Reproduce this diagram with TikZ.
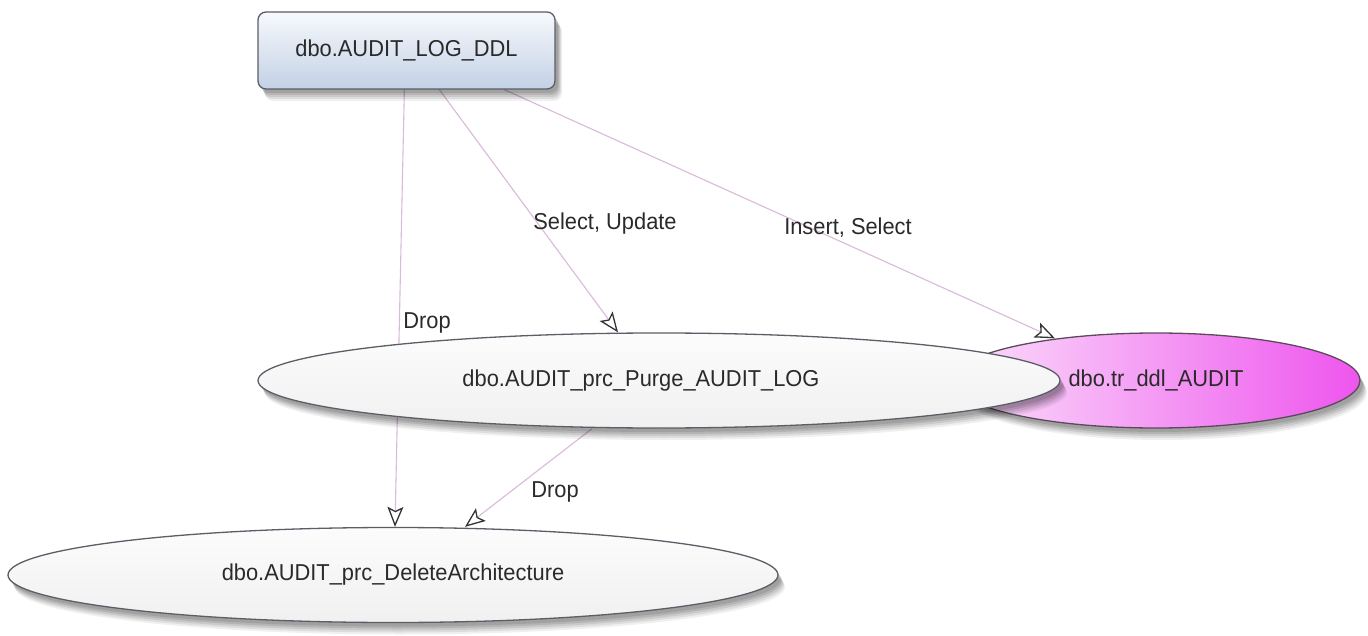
\documentclass[tikz,border=0pt]{standalone}
\usepackage{fontspec}
\setmainfont{Liberation Sans}[FakeStretch=0.95]
\usetikzlibrary{arrows.meta,shapes.geometric,shadows,calc}
\pgfdeclarelayer{bg}
\pgfsetlayers{bg,main}
\definecolor{edgec}{HTML}{DABADA}
\definecolor{txtc}{HTML}{2A2A2A}
\definecolor{borderc}{HTML}{5A5E66}
\definecolor{recttop}{HTML}{F7F9FC}
\definecolor{rectbot}{HTML}{C3D1E5}
\definecolor{elltop}{HTML}{FCFCFC}
\definecolor{ellbot}{HTML}{F0F0F0}
\definecolor{pinkl}{HTML}{FBE0FB}
\definecolor{pinkr}{HTML}{EE55EE}
\definecolor{trborder}{HTML}{5C4A5C}
\definecolor{tipc}{HTML}{333333}
\begin{document}
\begin{tikzpicture}[x=1pt,y=-1pt,
  font=\fontsize{23}{27}\selectfont, text=txtc,
  nodeshadow/.style={
    general shadow={shadow xshift=7pt, shadow yshift=-12pt, fill=black, opacity=0.06},
    general shadow={shadow xshift=6pt, shadow yshift=-10pt, fill=black, opacity=0.08},
    general shadow={shadow xshift=5pt, shadow yshift=-8pt, fill=black, opacity=0.09},
    general shadow={shadow xshift=4pt, shadow yshift=-6pt, fill=black, opacity=0.10},
    general shadow={shadow xshift=3pt, shadow yshift=-4pt, fill=black, opacity=0.10}},
  tablebox/.style={draw=borderc, line width=1.3pt, rounded corners=8pt,
    minimum width=297pt, minimum height=77pt, inner sep=0pt,
    top color=recttop, bottom color=rectbot, nodeshadow},
  procell/.style={ellipse, draw=borderc, line width=1.3pt, inner sep=0pt,
    minimum height=95pt, top color=elltop, bottom color=ellbot, nodeshadow},
  trigell/.style={ellipse, draw=trborder, line width=1.3pt, inner sep=0pt,
    minimum height=95pt, left color=pinkl, right color=pinkr, nodeshadow},
  dep/.style={draw=edgec, line width=1.1pt,
    -{Stealth[length=20pt,width=16pt,inset=4pt,color=tipc,fill=white,line width=1.3pt]}},
  elabel/.style={inner sep=0pt}
]
\useasboundingbox (0,0) rectangle (1368,636);
\begin{pgfonlayer}{bg}
  \fill[white] (0,0) rectangle (1368,636);
\end{pgfonlayer}

\node[tablebox] (top) at (406.5,50.5) {dbo.AUDIT\_LOG\_DDL};
\node[trigell, minimum width=408pt] (tr) at (1156,380.5) {dbo.tr\_ddl\_AUDIT};
\node[procell, minimum width=802pt] (purge) at (659,380.5) {\hspace*{-36pt}dbo.AUDIT\_prc\_Purge\_AUDIT\_LOG};
\node[procell, minimum width=770pt] (del) at (393,575) {dbo.AUDIT\_prc\_DeleteArchitecture};

\begin{pgfonlayer}{bg}
  \draw[dep] ($(top.south west)+(147,0)$) -- ($(del.north)+(2,0)$);
  \draw[dep] ($(top.south west)+(182,0)$) -- ($(purge.north)+(-41,0)$);
  \draw[dep] ($(top.south west)+(247,0)$) -- ($(tr.north)+(-101,6)$);
  \draw[dep] ($(purge.south)+(-67,0)$) -- ($(del.north)+(72,0)$);
\end{pgfonlayer}

\node[elabel] (l1) at (427,323) {Drop};
\node[elabel] (l2) at (605,224) {Select, Update};
\node[elabel] (l3) at (848,228) {Insert, Select};
\node[elabel] (l4) at (555,492) {Drop};
\end{tikzpicture}
\end{document}
